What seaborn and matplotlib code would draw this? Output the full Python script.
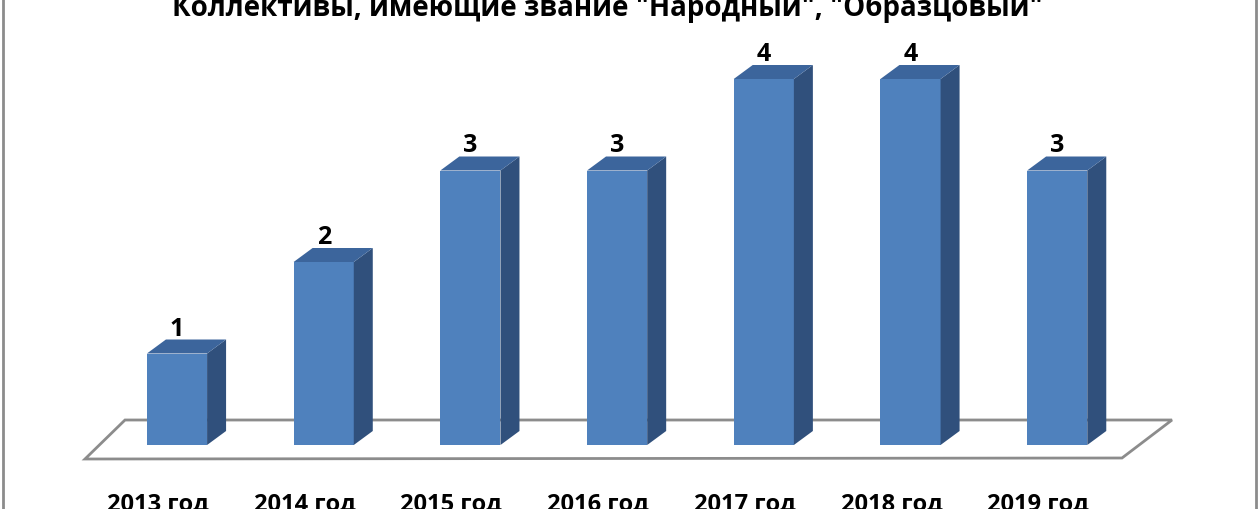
import matplotlib
matplotlib.use("Agg")
import matplotlib.pyplot as plt
import seaborn as sns
from matplotlib.patches import Polygon
from matplotlib.lines import Line2D

# Data
years = ["2013 год", "2014 год", "2015 год", "2016 год", "2017 год", "2018 год", "2019 год"]
counts = [1, 2, 3, 3, 4, 4, 3]
title = "Коллективы, имеющие звание \"Народный\", \"Образцовый\""

# Colours (Excel 2007 style 3D column)
FRONT = "#4F81BD"
SIDE = "#30507C"
TOP = "#3C659C"
FLOOR = "#8C8C8C"

sns.set_style("white")
plt.rcParams["font.family"] = ["Open Sans", "DejaVu Sans"]

W, H = 1260, 510
fig = plt.figure(figsize=(W / 100, H / 100), dpi=100)
ax = fig.add_axes([0, 0, 1, 1])

# pixel layout of the category axis
X0, DX = 177.0, 146.7   # centre of first bar, spacing (px)
Y0, DY = 446.0, 91.5    # baseline from top, px per unit


def px(x, y):
    """pixel (from top-left) -> data coords"""
    return (x - X0) / DX, (Y0 - y) / DY


ax.set_xlim(px(0, 0)[0], px(W, 0)[0])
ax.set_ylim(px(0, H)[1], px(0, 0)[1])

# floor of the 3D chart
floor = [px(85, 460), px(125, 421), px(1172, 421), px(1122, 459)]
ax.add_patch(Polygon(floor, closed=True, facecolor="white", edgecolor=FLOOR,
                     linewidth=2, zorder=1))

sns.barplot(x=list(range(len(years))), y=counts, color=FRONT, saturation=1,
            width=0.41, ax=ax, zorder=3, native_scale=True)

ddx, ddy = 19 / DX, 14 / DY
for bar in ax.patches[1:]:
    x, w, h = bar.get_x(), bar.get_width(), bar.get_height()
    bar.set_edgecolor("none")
    side = [(x + w, 0), (x + w + ddx, ddy), (x + w + ddx, h + ddy), (x + w, h)]
    top = [(x, h), (x + ddx, h + ddy), (x + w + ddx, h + ddy), (x + w, h)]
    ax.add_patch(Polygon(side, closed=True, facecolor=SIDE, edgecolor="none", zorder=3))
    ax.add_patch(Polygon(top, closed=True, facecolor=TOP, edgecolor="none", zorder=3))
    ax.text(x + w / 2, h + ddy + 5 / DY, f"{h:g}", ha="center", va="baseline",
            fontsize=18, fontweight="bold", color="black", zorder=4)

# category labels under the floor
for i, lab in enumerate(years):
    ax.text(i - 19 / DX, px(0, 511)[1], lab, ha="center", va="baseline",
            fontsize=17, fontweight="bold", color="black")

ax.set_axis_off()

fig.text(0.482, 1 - 16 / H, title, ha="center", va="baseline",
         fontsize=20, fontweight="bold", color="black")

# outer chart frame
fig.add_artist(Line2D([2.5 / W, 2.5 / W], [0, 1], color="#8C8C8C", linewidth=2))
fig.add_artist(Line2D([1255.5 / W, 1255.5 / W], [0, 1], color="#8C8C8C", linewidth=2))

fig.savefig("out.png", dpi=100, facecolor="white")
